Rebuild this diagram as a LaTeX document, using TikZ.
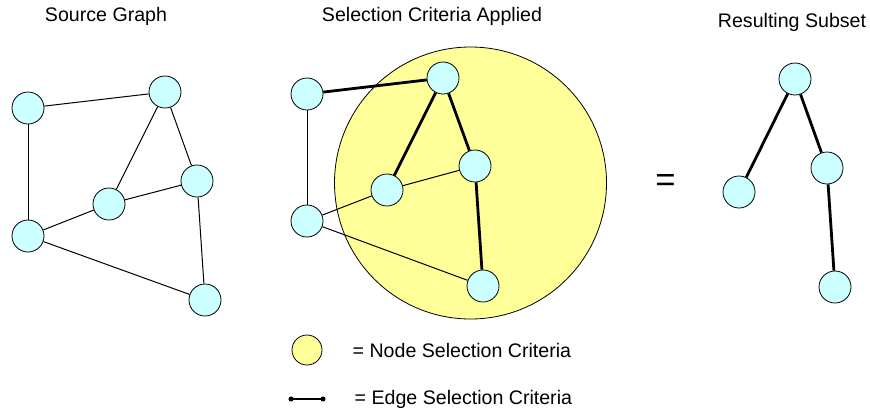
\documentclass[tikz,border=0pt]{standalone}
\usepackage{fontspec}
\setmainfont{Liberation Sans}
\usepackage{xcolor}
\usetikzlibrary{positioning}
\definecolor{nodecyan}{HTML}{CCFFFF}
\definecolor{crityellow}{HTML}{FFFF99}
\tikzset{
  vertex/.style={
    circle, draw=black, line width=0.6pt, fill=nodecyan,
    minimum size=24pt, inner sep=0pt,
  },
  plain edge/.style={line width=0.75pt},
  sel edge/.style={line width=2.1pt},
  title/.style={anchor=base, font=\fontsize{14.7}{17}\selectfont},
  legend text/.style={anchor=base west, font=\fontsize{14.7}{17}\selectfont},
}

\begin{document}
\begin{tikzpicture}[x=0.75pt, y=-0.75pt]
  \useasboundingbox (0,0) rectangle (870,411);

  % Titles
  \node[title] (t_src) at (106,21) {Source Graph};
  \node[title] (t_sel) at (432,21) {Selection Criteria Applied};
  \node[title] (t_res) at (792,27) {Resulting Subset};

  % Source graph
  \node[vertex] (a1) at (28,108) {};
  \node[vertex] (a2) at (165,92) {};
  \node[vertex] (a3) at (197,181) {};
  \node[vertex] (a4) at (109,204) {};
  \node[vertex] (a5) at (28,236) {};
  \node[vertex] (a6) at (205,300) {};

  \draw[plain edge] (a1) -- (a2);
  \draw[plain edge] (a1) -- (a5);
  \draw[plain edge] (a2) -- (a4);
  \draw[plain edge] (a2) -- (a3);
  \draw[plain edge] (a4) -- (a3);
  \draw[plain edge] (a4) -- (a5);
  \draw[plain edge] (a5) -- (a6);
  \draw[plain edge] (a3) -- (a6);

  % Selection criteria applied
  \node[circle, draw=black, line width=0.6pt, fill=crityellow,
        minimum size=204pt, inner sep=0pt] (crit) at (470.5,183) {};

  \node[vertex] (b1) at (307,94) {};
  \node[vertex] (b2) at (443,78) {};
  \node[vertex] (b3) at (475,166) {};
  \node[vertex] (b4) at (387,190) {};
  \node[vertex] (b5) at (307,221) {};
  \node[vertex] (b6) at (483,286) {};

  \draw[sel edge] (b1) -- (b2);
  \draw[plain edge] (b1) -- (b5);
  \draw[sel edge] (b2) -- (b4);
  \draw[sel edge] (b2) -- (b3);
  \draw[plain edge] (b4) -- (b3);
  \draw[plain edge] (b4) -- (b5);
  \draw[plain edge] (b5) -- (b6);
  \draw[sel edge] (b3) -- (b6);

  \node[font=\fontsize{26}{28}\selectfont] (equals) at (665.5,183) {=};

  % Resulting subset
  \node[vertex] (c1) at (795,79) {};
  \node[vertex] (c2) at (827,168) {};
  \node[vertex] (c3) at (739,192) {};
  \node[vertex] (c4) at (835,287) {};

  \draw[sel edge] (c1) -- (c3);
  \draw[sel edge] (c1) -- (c2);
  \draw[sel edge] (c2) -- (c4);

  % Legend
  \node[circle, draw=black, line width=0.6pt, fill=crityellow,
        minimum size=22.5pt, inner sep=0pt] (leg_node) at (307,350) {};
  \node[legend text] (leg_node_txt) at (348,357) {= Node Selection Criteria};

  \coordinate (leg_e1) at (291,399);
  \coordinate (leg_e2) at (323,399);
  \draw[sel edge] (leg_e1) -- (leg_e2);
  \fill (leg_e1) circle (1.9pt);
  \fill (leg_e2) circle (1.9pt);
  \node[legend text] (leg_edge_txt) at (350,404) {= Edge Selection Criteria};

\end{tikzpicture}
\end{document}
